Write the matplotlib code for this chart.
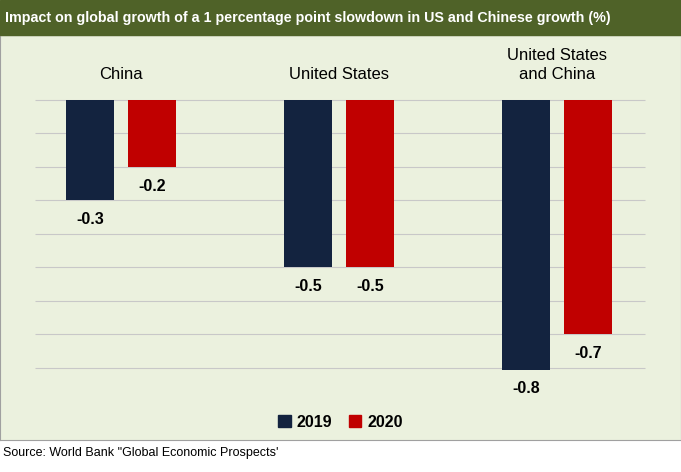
import matplotlib
matplotlib.use("Agg")
import matplotlib.pyplot as plt
from matplotlib.patches import Rectangle

categories = ["China", "United States", "United States\nand China"]
years = ["2019", "2020"]
vals_2019 = [-0.30, -0.50, -0.805]
vals_2020 = [-0.20, -0.50, -0.70]
labels_2019 = ["-0.3", "-0.5", "-0.8"]
labels_2020 = ["-0.2", "-0.5", "-0.7"]
grid_levels = [0, -0.1, -0.2, -0.3, -0.4, -0.5, -0.6, -0.7, -0.8]

NAVY = "#13233f"
RED = "#c00000"
BG = "#ebf1de"
GREEN = "#4f6228"

plt.rcParams["font.family"] = ["Liberation Sans", "DejaVu Sans"]

W, H = 681, 472
fig = plt.figure(figsize=(W / 100, H / 100), dpi=100)
fig.patch.set_facecolor("white")

# chart area (bg) from y=35 to y=440 px
ax = fig.add_axes([0, (H - 440) / H, 1, (440 - 35) / H])
ax.set_facecolor(BG)
px = 335.0  # pixels per unit
ax.set_ylim(-(440 - 100) / px, (100 - 35) / px)
ax.set_xlim(-121 / 218, (681 - 121) / 218)
for s in ax.spines.values():
    s.set_color("#a0a0a0")
ax.set_xticks([])
ax.set_yticks([])

ax.hlines(grid_levels, -0.394, 2.404, color="#c8c8c8", lw=0.8, zorder=1)

off, bw = 0.142, 0.22
xs = range(len(categories))
for i in xs:
    ax.bar(i - off, vals_2019[i], bw, color=NAVY, zorder=2)
    ax.bar(i + off, vals_2020[i], bw, color=RED, zorder=2)
    ax.text(i - off, vals_2019[i] - 0.035, labels_2019[i], ha="center", va="top",
            fontsize=11.5, fontweight="bold")
    ax.text(i + off, vals_2020[i] - 0.035, labels_2020[i], ha="center", va="top",
            fontsize=11.5, fontweight="bold")
    ax.text(i, 0.055, categories[i], ha="center", va="bottom", fontsize=12,
            linespacing=1.3)

# legend
ax.legend(handles=[Rectangle((0, 0), 1, 1, color=NAVY), Rectangle((0, 0), 1, 1, color=RED)],
          labels=years, loc="lower center", bbox_to_anchor=(0.5, -0.01), ncol=2,
          frameon=False, prop={"weight": "bold", "size": 11.5}, handlelength=0.8,
          handleheight=0.8, columnspacing=1.0, handletextpad=0.4)

# title band
fig.patches.append(Rectangle((0, (H - 35) / H), 1, 35 / H, transform=fig.transFigure,
                             color=GREEN, zorder=0))
fig.text(0.008, (H - 18) / H, "Impact on global growth of a 1 percentage point slowdown in US and Chinese growth (%)",
         color="white", fontweight="bold", fontsize=10.3, va="center", ha="left")

fig.text(0.004, (H - 453) / H, "Source: World Bank \"Global Economic Prospects'",
         fontsize=9, va="center", ha="left")

fig.savefig("out.png", dpi=100)
